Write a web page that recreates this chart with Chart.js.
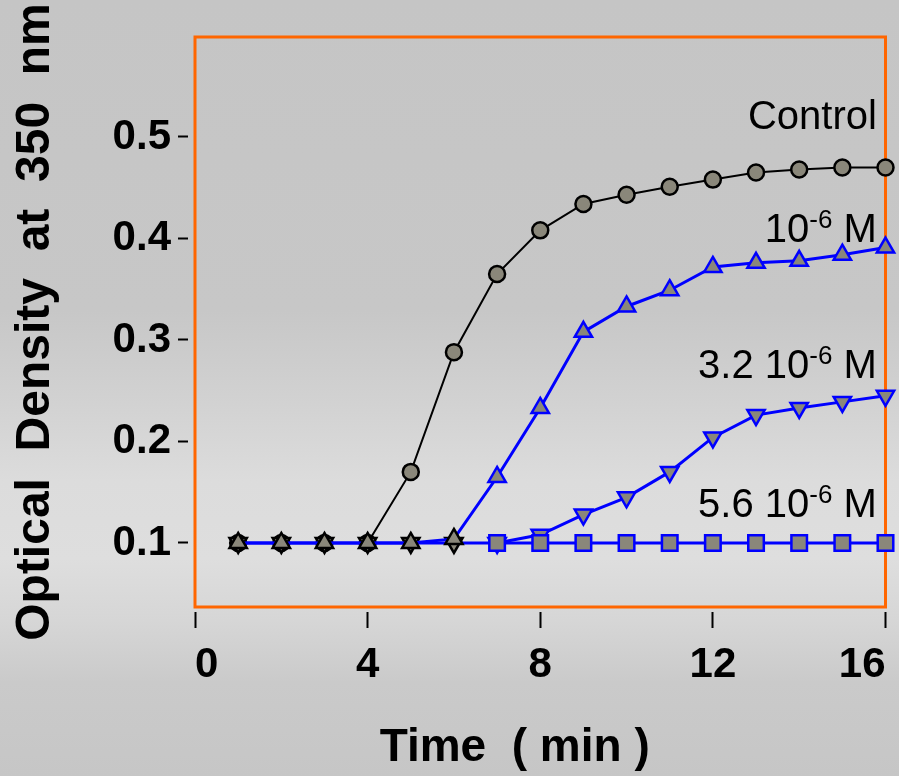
<!DOCTYPE html>
<html>
<head>
<meta charset="utf-8">
<title>Optical density vs time</title>
<script src="https://cdn.jsdelivr.net/npm/chart.js@4.4.0/dist/chart.umd.min.js"></script>
<style>
  html, body { margin: 0; padding: 0; }
  body {
    width: 899px; height: 776px; overflow: hidden;
    background: linear-gradient(to bottom,
      #c5c5c5 0%, #c7c7c7 40%, #d2d2d2 52%, #dcdcdc 62%,
      #dedede 72%, #d6d6d6 80%, #cacaca 88%, #c6c6c6 100%);
  }
  canvas { display: block; }
</style>
</head>
<body>
<canvas id="chart" width="899" height="776"></canvas>
<script>
// ─── Data ────────────────────────────────────────────────────────────────────
const times = [1, 2, 3, 4, 5, 6, 7, 8, 9, 10, 11, 12, 13, 14, 15, 16];

const controlOD = [0.1, 0.1, 0.1, 0.1, 0.170, 0.288, 0.365, 0.408,
                   0.434, 0.443, 0.451, 0.458, 0.465, 0.468, 0.470, 0.470];
const od1e6     = [0.1, 0.1, 0.1, 0.1, 0.1, 0.104, 0.165, 0.233,
                   0.308, 0.333, 0.349, 0.372, 0.376, 0.378, 0.384, 0.391];
const od32e6    = [0.1, 0.1, 0.1, 0.1, 0.1, 0.1, 0.1, 0.108,
                   0.128, 0.145, 0.170, 0.204, 0.226, 0.233, 0.239, 0.245];
const od56e6    = [null, null, null, null, null, null, 0.1, 0.1,
                   0.1, 0.1, 0.1, 0.1, 0.1, 0.1, 0.1, 0.1];

const xTicks = [0, 4, 8, 12, 16];
const yTicks = [0.1, 0.2, 0.3, 0.4, 0.5];

// curve labels: [main text, superscript, suffix] anchored right at (x, y)
const curveLabels = [
  { parts: ['Control', '', ''],       x: 15.8, y: 0.508 },
  { parts: ['10', '-6', ' M'],        x: 15.8, y: 0.3965 },
  { parts: ['3.2 10', '-6', ' M'],    x: 15.8, y: 0.2625 },
  { parts: ['5.6 10', '-6', ' M'],    x: 15.8, y: 0.1256 },
];

// ─── Helpers ────────────────────────────────────────────────────────────────
const FONT = '"Liberation Sans", Arial, sans-serif';
const BLUE = '#0000ff';
const MARKER_FILL = '#8a877a';

const toPoints = arr => times.map((t, i) => ({ x: t, y: arr[i] }));
// early (overlapping) markers are outlined in black in the original
const earlyBlack = (n, color) => ctx => ctx.dataIndex < n ? '#000' : color;

// ─── Plugins ────────────────────────────────────────────────────────────────
const framePlugin = {
  id: 'frame',
  beforeDatasetsDraw(chart) {
    const { ctx, chartArea: a } = chart;
    ctx.save();
    ctx.strokeStyle = '#ff6600';
    ctx.lineWidth = 3;
    ctx.strokeRect(a.left, a.top, a.right - a.left, a.bottom - a.top);
    ctx.restore();
  },
};

const labelPlugin = {
  id: 'curveLabels',
  afterDatasetsDraw(chart) {
    const { ctx, scales: { x, y } } = chart;
    ctx.save();
    ctx.fillStyle = '#000';
    ctx.textBaseline = 'alphabetic';
    ctx.textAlign = 'left';
    curveLabels.forEach(lbl => {
      const [main, sup, suffix] = lbl.parts;
      const big = `40px ${FONT}`, small = `26px ${FONT}`;
      ctx.font = big;
      const wMain = ctx.measureText(main).width;
      const wSuf = ctx.measureText(suffix).width;
      ctx.font = small;
      const wSup = ctx.measureText(sup).width;
      const right = x.getPixelForValue(lbl.x);
      const base = y.getPixelForValue(lbl.y);
      let px = right - (wMain + wSup + wSuf);
      ctx.font = big;
      ctx.fillText(main, px, base);
      px += wMain;
      ctx.font = small;
      ctx.fillText(sup, px, base - 14);
      px += wSup;
      ctx.font = big;
      ctx.fillText(suffix, px, base);
    });
    ctx.restore();
  },
};

// ─── Chart ──────────────────────────────────────────────────────────────────
new Chart(document.getElementById('chart'), {
  type: 'line',
  data: {
    datasets: [
      {
        label: '5.6 10-6 M',
        data: toPoints(od56e6),
        borderColor: BLUE,
        borderWidth: 3,
        pointStyle: 'rect',
        pointRadius: 11,
        pointBackgroundColor: MARKER_FILL,
        pointBorderColor: BLUE,
        pointBorderWidth: 2.5,
      },
      {
        label: '10-6 M',
        data: toPoints(od1e6),
        borderColor: BLUE,
        borderWidth: 3,
        pointStyle: 'triangle',
        pointRadius: 10,
        pointBackgroundColor: MARKER_FILL,
        pointBorderColor: earlyBlack(6, BLUE),
        pointBorderWidth: 2.5,
      },
      {
        label: '3.2 10-6 M',
        data: toPoints(od32e6),
        borderColor: BLUE,
        borderWidth: 3,
        pointStyle: 'triangle',
        pointRotation: 180,
        pointRadius: 10,
        pointBackgroundColor: MARKER_FILL,
        pointBorderColor: earlyBlack(6, BLUE),
        pointBorderWidth: 2.5,
      },
      {
        label: 'Control',
        data: toPoints(controlOD),
        borderColor: '#000',
        borderWidth: 2,
        pointStyle: 'circle',
        pointRadius: 8,
        pointBackgroundColor: MARKER_FILL,
        pointBorderColor: '#000',
        pointBorderWidth: 2.5,
      },
    ],
  },
  options: {
    responsive: false,
    animation: false,
    devicePixelRatio: 1,
    layout: { padding: { top: 37, right: 10, bottom: 0, left: 0 } },
    elements: { line: { tension: 0 } },
    datasets: { line: { clip: false, spanGaps: false } },
    plugins: {
      legend: { display: false },
      tooltip: { enabled: false },
    },
    scales: {
      x: {
        type: 'linear',
        min: 0,
        max: 16,
        afterBuildTicks: s => { s.ticks = xTicks.map(v => ({ value: v })); },
        afterFit: s => {
          s.height = 169;
          s.paddingLeft = 0;
          s.paddingRight = 0;
        },
        border: { display: false },
        grid: {
          drawOnChartArea: false,
          drawTicks: true,
          tickLength: 21,
          tickColor: '#000',
          tickWidth: 2,
          tickBorderDash: [0, 5, 16, 100],
        },
        ticks: {
          color: '#000',
          padding: 12,
          maxRotation: 0,
          align: 'inner',
          font: { family: FONT, size: 42, weight: 'bold' },
        },
        title: {
          display: true,
          text: 'Time  ( min )    ',
          color: '#000',
          padding: { top: 0, bottom: 0 },
          font: { family: FONT, size: 46, weight: 'bold' },
        },
      },
      y: {
        type: 'linear',
        min: 0.0369,
        max: 0.5985,
        afterBuildTicks: s => { s.ticks = yTicks.map(v => ({ value: v })); },
        afterFit: s => {
          s.width = 195;
          s.paddingTop = 0;
          s.paddingBottom = 0;
        },
        border: { display: false },
        grid: {
          drawOnChartArea: false,
          drawTicks: true,
          tickLength: 17,
          tickColor: '#000',
          tickWidth: 2,
          tickBorderDash: [10, 20],
        },
        ticks: {
          color: '#000',
          padding: 7,
          font: { family: FONT, size: 42, weight: 'bold' },
          callback: v => v.toFixed(1),
        },
        title: {
          display: true,
          text: 'Optical  Density  at  350  nm',
          color: '#000',
          padding: { top: 7, bottom: 0 },
          font: { family: FONT, size: 48, weight: 'bold' },
        },
      },
    },
  },
  plugins: [framePlugin, labelPlugin],
});
</script>
</body>
</html>
